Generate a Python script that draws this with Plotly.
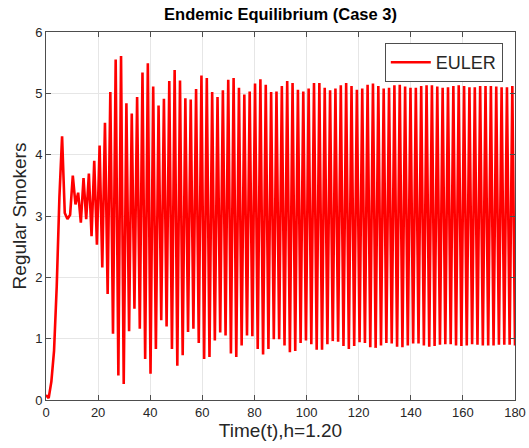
import numpy as np
import plotly.graph_objects as go

# Regular smokers (Euler, h=1.20), one value per step
regular_smokers = [
    0.08, 0.03, 0.30, 0.80, 1.85, 3.30, 4.30, 3.05, 2.95, 3.02,
    3.66, 3.19, 3.38, 2.89, 3.62, 2.95, 3.69, 2.67, 3.90, 2.53,
    4.15, 2.16, 4.52, 1.73, 5.02, 1.08, 5.55, 0.40, 5.61, 0.26,
    4.84, 1.12, 4.67, 1.49, 4.94, 1.16, 5.34, 0.67, 5.49, 0.43,
    5.11, 0.83, 4.80, 1.30, 4.91, 1.20, 5.20, 0.83, 5.38, 0.56,
    5.21, 0.73, 4.92, 1.11, 4.90, 1.16, 5.07, 0.93, 5.29, 0.67,
    5.25, 0.70, 5.02, 0.97, 4.94, 1.10, 5.05, 1.05, 5.22, 0.76,
    5.25, 0.70, 5.09, 0.89, 4.98, 1.05, 5.03, 1.04, 5.16, 0.83,
    5.23, 0.74, 5.14, 0.83, 5.02, 0.99, 5.03, 0.99, 5.12, 0.89,
    5.20, 0.78, 5.17, 0.80, 5.06, 0.93, 5.03, 0.97, 5.08, 0.91,
    5.17, 0.82, 5.17, 0.82, 5.09, 0.91, 5.05, 0.96, 5.08, 0.95,
    5.13, 0.88, 5.17, 0.83, 5.12, 0.88, 5.06, 0.94, 5.08, 0.93,
    5.14, 0.86, 5.16, 0.85, 5.12, 0.89, 5.08, 0.93, 5.09, 0.92,
    5.13, 0.87, 5.14, 0.86, 5.11, 0.89, 5.09, 0.92, 5.09, 0.92,
    5.12, 0.89, 5.13, 0.87, 5.13, 0.88, 5.11, 0.90, 5.09, 0.91,
    5.10, 0.91, 5.12, 0.89, 5.13, 0.88, 5.12, 0.89, 5.10, 0.91,
    5.10, 0.90, 5.12, 0.89, 5.12, 0.89, 5.12, 0.89, 5.11, 0.90,
    5.10, 0.90, 5.10, 0.90, 5.12, 0.89,
]
time_values = np.linspace(0, 180, len(regular_smokers))

x_ticks = [0, 20, 40, 60, 80, 100, 120, 140, 160, 180]
y_ticks = [0, 1, 2, 3, 4, 5, 6]

font_family = "Liberation Sans, Arial, sans-serif"
axis_color = "#262626"

fig = go.Figure()
fig.add_trace(go.Scatter(
    x=time_values, y=regular_smokers, mode="lines", name="EULER",
    line=dict(color="#ff0000", width=2.6),
))

axis_common = dict(
    showline=True, linecolor="#4d4d4d", linewidth=1, mirror="ticks",
    ticks="inside", ticklen=5, tickcolor="#4d4d4d",
    showgrid=True, gridcolor="#e6e6e6", gridwidth=1, zeroline=False,
    automargin=False,
    tickfont=dict(family=font_family, size=13, color=axis_color),
)

fig.update_layout(
    width=529, height=448,
    margin=dict(l=46, r=14, t=32, b=48),
    paper_bgcolor="white", plot_bgcolor="white",
    font=dict(family=font_family, color=axis_color),
    title=dict(text="<b>Endemic Equilibrium (Case 3)</b>", x=(46 + 515) / 2 / 529,
               xanchor="center", y=1 - 14 / 448, yanchor="middle",
               font=dict(family=font_family, size=16.5, color="#000000")),
    xaxis=dict(range=[0, 180], tickvals=x_ticks,
               title=dict(text="Time(t),h=1.20", standoff=4,
                          font=dict(family=font_family, size=19, color=axis_color)),
               **axis_common),
    yaxis=dict(range=[0, 6], tickvals=y_ticks,
               title=dict(text="Regular Smokers", standoff=3,
                          font=dict(family=font_family, size=19, color=axis_color)),
               **axis_common),
    legend=dict(x=0.974, y=0.970, xanchor="right", yanchor="top",
                bgcolor="white", bordercolor="#4d4d4d", borderwidth=1,
                itemwidth=40,
                font=dict(family=font_family, size=18, color=axis_color)),
    showlegend=True,
)

fig.write_html(
    "out.html",
    config={"displayModeBar": False},
    post_script="document.body.style.margin='0';document.body.style.overflow='hidden';",
)
